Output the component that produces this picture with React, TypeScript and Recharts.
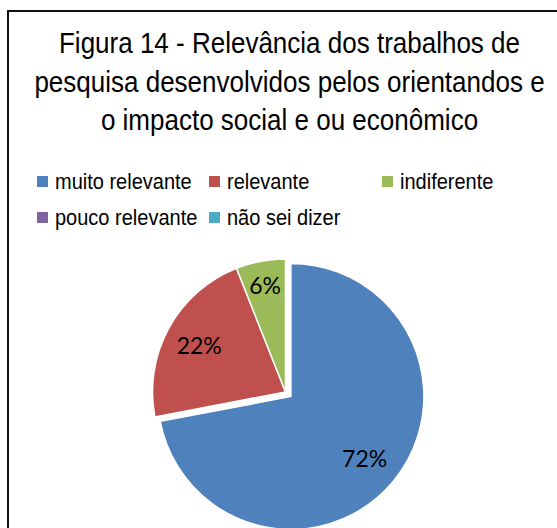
import React from "react";
import { PieChart, Pie, Cell } from "recharts";

const categories = ["muito relevante", "relevante", "indiferente", "pouco relevante", "não sei dizer"];
const values = [72, 22, 6, 0, 0];
const colors = ["#4F81BD", "#C0504D", "#9BBB59", "#8064A2", "#4BACC6"];
const titleLines = [
  "Figura 14 - Relevância dos trabalhos de",
  "pesquisa desenvolvidos pelos orientandos e",
  "o impacto social e ou econômico",
];

// label distance from centre, as a share of the radius (Excel "best fit" look)
const labelRadius = [0.72, 0.74, 0.82, 0.7, 0.7];
const explodedIndex = 0;
const explodeBy = 7;

const data = categories.map((name, i) => ({ name, value: values[i] }));
const total = values.reduce((a, b) => a + b, 0);
const RAD = Math.PI / 180;

const CX = 285.5;
const CY = 392;
const R = 133;

// mid angle of the pulled-out slice (pie starts at 12 o'clock, goes clockwise)
const before = values.slice(0, explodedIndex).reduce((a, b) => a + b, 0);
const midDeg = 90 - ((before + values[explodedIndex] / 2) / total) * 360;
const exCX = CX + explodeBy * Math.cos(midDeg * RAD);
const exCY = CY - explodeBy * Math.sin(midDeg * RAD);

const FONT = "'Liberation Sans', Arial, sans-serif";

function makeLabel(show: (i: number) => boolean) {
  return (props: any) => {
    const { cx, cy, midAngle, outerRadius, index, percent } = props;
    if (!show(index) || values[index] === 0) return null;
    const r = outerRadius * labelRadius[index];
    const x = cx + r * Math.cos(-midAngle * RAD);
    const y = cy + r * Math.sin(-midAngle * RAD);
    return (
      <text x={x} y={y} textAnchor="middle" dominantBaseline="central"
        fontFamily="Lato, 'Open Sans', sans-serif" fontSize={23} fill="#000">
        {`${Math.round(percent * 100)}%`}
      </text>
    );
  };
}

function LegendBox() {
  const cols = [37, 209, 382];
  const rows = [181, 217];
  return (
    <>
      {categories.map((c, i) => (
        <div key={c} style={{
          position: "absolute", left: cols[i % 3], top: rows[Math.floor(i / 3)] - 12,
          height: 24, display: "flex", alignItems: "center", fontFamily: FONT, fontSize: 20, color: "#000",
          whiteSpace: "nowrap",
        }}>
          <span style={{ display: "inline-block", width: 11, height: 11, background: colors[i], marginRight: 7 }} />
          <span style={{ display: "inline-block", transform: "scaleY(1.12)" }}>{c}</span>
        </div>
      ))}
    </>
  );
}

export default function App() {
  const isEx = (i: number) => i === explodedIndex;
  const notEx = (i: number) => i !== explodedIndex;
  return (
    <div style={{ position: "absolute", left: 0, top: 0, width: 557, height: 528, background: "#fff", overflow: "hidden" }}>
      <div style={{ position: "absolute", left: 7, top: 10, width: 560, height: 530, borderLeft: "2px solid #111", borderTop: "2px solid #111" }} />
      <div style={{
        position: "absolute", left: 0, top: 24, width: 579, textAlign: "center",
        fontFamily: FONT, fontSize: 26, lineHeight: "38.5px", color: "#000",
      }}>
        {titleLines.map((t) => <div key={t} style={{ transform: "scaleY(1.14)" }}>{t}</div>)}
      </div>
      <LegendBox />
      <div style={{ position: "absolute", left: 0, top: 0 }}>
        <PieChart width={557} height={528} margin={{ top: 0, right: 0, bottom: 0, left: 0 }}>
          <Pie data={data} dataKey="value" nameKey="name" cx={exCX} cy={exCY} outerRadius={R}
            startAngle={90} endAngle={-270} isAnimationActive={false} labelLine={false}
            label={makeLabel(isEx)}>
            {data.map((d, i) => (
              <Cell key={d.name} fill={isEx(i) ? colors[i] : "transparent"} stroke={isEx(i) ? "#fff" : "none"} strokeWidth={1.5} />
            ))}
          </Pie>
          <Pie data={data} dataKey="value" nameKey="name" cx={CX} cy={CY} outerRadius={R}
            startAngle={90} endAngle={-270} isAnimationActive={false} labelLine={false}
            label={makeLabel(notEx)}>
            {data.map((d, i) => (
              <Cell key={d.name} fill={notEx(i) ? colors[i] : "transparent"} stroke={notEx(i) ? "#fff" : "none"} strokeWidth={1.5} />
            ))}
          </Pie>
        </PieChart>
      </div>
    </div>
  );
}
